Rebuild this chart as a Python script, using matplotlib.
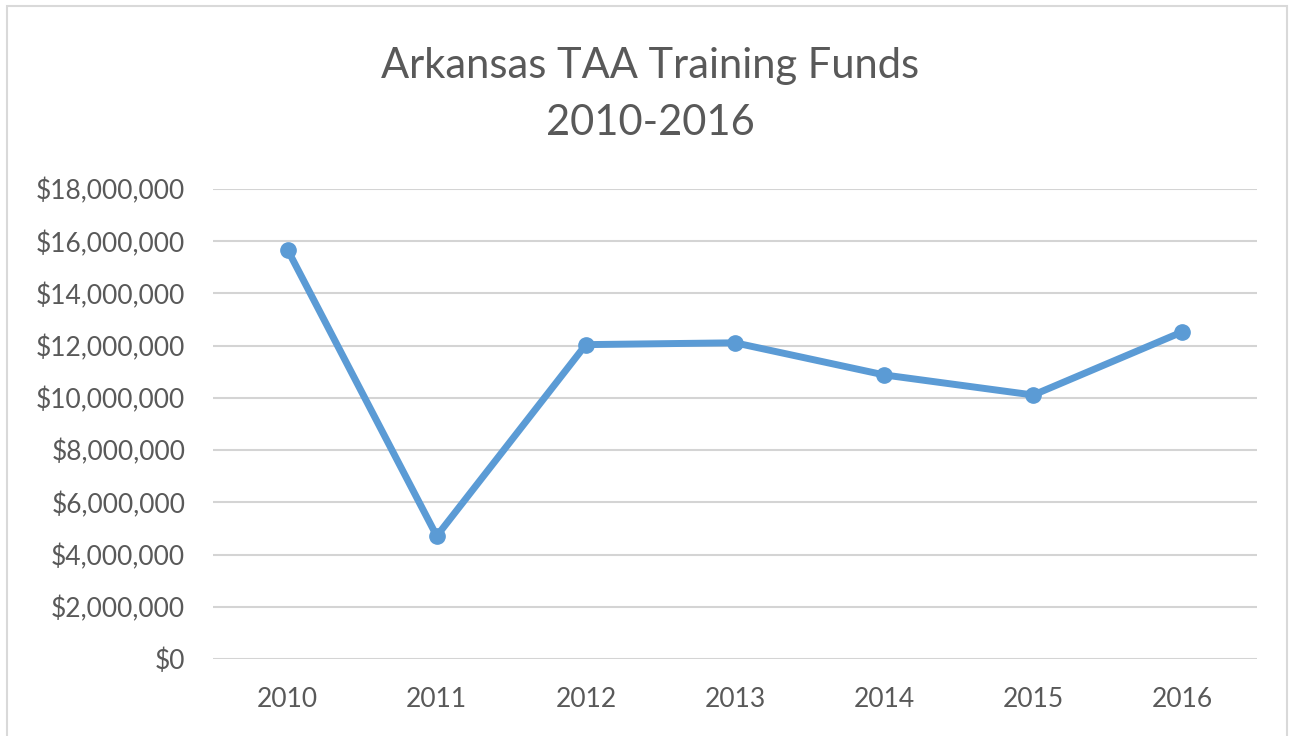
import matplotlib.pyplot as plt
from matplotlib.patches import Rectangle
from matplotlib.ticker import FuncFormatter

# Data
years = ['2010', '2011', '2012', '2013', '2014', '2015', '2016']
funds = [15670000, 4710000, 12040000, 12110000, 10880000, 10110000, 12530000]

plt.rcParams['font.family'] = ['Lato', 'DejaVu Sans']

fig = plt.figure(figsize=(12.92, 7.36), dpi=100)
ax = fig.add_axes([0.1649, 0.1046, 0.808, 0.6386])

# light frame around the chart
fig.patches.append(Rectangle((7 / 1292, -0.01), 1280 / 1292, 1 - 6 / 736 + 0.01,
                             transform=fig.transFigure, fill=False,
                             edgecolor='#d9d9d9', linewidth=1.5))

x = range(len(years))
ax.plot(x, funds, color='#5b9bd5', linewidth=5, marker='o', markersize=11,
        solid_capstyle='round', zorder=3)

ax.set_xlim(-0.5, len(years) - 0.5)
ax.set_ylim(0, 18000000)
ax.set_yticks(range(0, 18000001, 2000000))
ax.yaxis.set_major_formatter(FuncFormatter(lambda v, p: '${:,.0f}'.format(v)))
ax.set_xticks(list(x))
ax.set_xticklabels(years)

ax.grid(axis='y', color='#d4d4d4', linewidth=1.5)
ax.set_axisbelow(True)
for s in ax.spines.values():
    s.set_visible(False)
ax.tick_params(length=0, labelsize=19, colors='#595959')
ax.tick_params(axis='x', pad=20)
ax.tick_params(axis='y', pad=20)

fig.text(0.503, 0.910, 'Arkansas TAA Training Funds', ha='center', va='center',
         fontsize=30, color='#595959')
fig.text(0.503, 0.833, '2010-2016', ha='center', va='center',
         fontsize=30, color='#595959')

fig.savefig('out.png', dpi=100)
